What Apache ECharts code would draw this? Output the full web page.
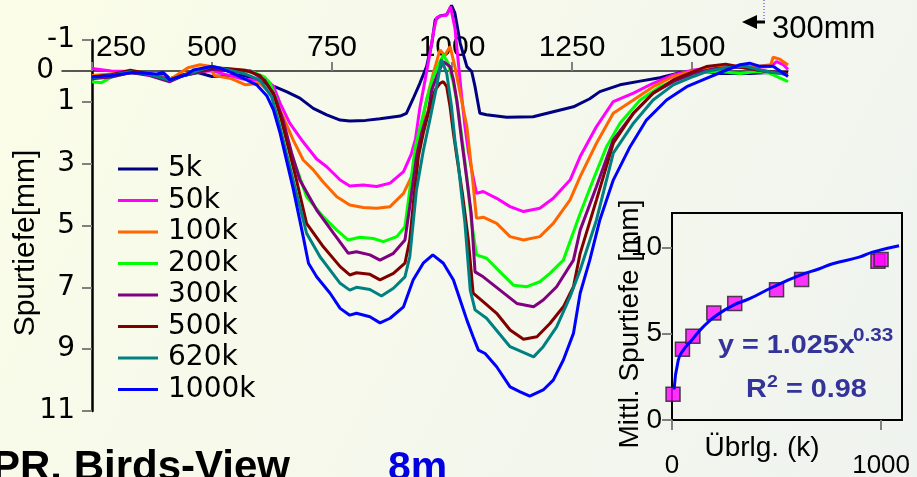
<!DOCTYPE html>
<html><head><meta charset="utf-8">
<script src="https://cdn.jsdelivr.net/npm/echarts@6/dist/echarts.min.js"></script>
<style>html,body{margin:0;padding:0;background:#f6f9ec}#c{width:917px;height:477px}</style>
</head><body><div id="c"></div>
<script>
// ---------- main chart data: [position, depth] ----------
const names = ['5k','50k','100k','200k','300k','500k','620k','1000k'];
const colors = ['#000080','#ff00ff','#ff6600','#00ff00','#800080','#800000','#008080','#0000ff'];
const xTicks = [250,500,750,1000,1250,1500];
const yLabels = [-1,0,1,3,5,7,9,11];
const yTicks = [-1,1,3,5,7,9,11];

const s5k = [[250,0.2],[290,0.15],[335,0.05],[385,0.12],[400,0.08],[412,0.25],[440,0.15],[470,0.05],[500,0.18],[540,0.15],[560,0.12],[600,0.3],[628,0.49],[655,0.67],[683,0.88],[711,1.21],[739,1.42],[767,1.59],[787,1.62],[820,1.6],[850,1.55],[892,1.46],[905,1.37],[919,0.9],[933,0.4],[947,-0.14],[958,-0.9],[965,-1.65],[975,-1.78],[989,-1.82],[999,-2.12],[1006,-1.87],[1017,-0.9],[1031,-0.14],[1041,0.02],[1048,0.51],[1058,1.37],[1072,1.42],[1114,1.5],[1169,1.48],[1211,1.32],[1253,1.16],[1287,0.9],[1308,0.67],[1350,0.45],[1392,0.33],[1433,0.22],[1475,0.06],[1517,0.0],[1560,0.08],[1620,0.08],[1660,0.05],[1700,0.05]];
const s50k = [[250,-0.08],[290,0.0],[330,0.02],[370,0.08],[412,0.25],[440,0.15],[470,0.02],[500,0.0],[530,0.12],[560,0.25],[590,0.3],[614,0.3],[628,0.5],[642,1.05],[662,1.69],[690,2.3],[718,2.85],[739,3.1],[767,3.53],[787,3.72],[815,3.69],[843,3.74],[871,3.63],[899,3.26],[915,2.7],[924,2.2],[933,1.2],[944,0.29],[954,-0.57],[962,-1.3],[968,-1.72],[978,-1.78],[989,-1.8],[997,-2.08],[1006,-1.4],[1013,-0.3],[1020,0.8],[1027,1.8],[1034,2.6],[1041,3.2],[1051,3.96],[1065,3.9],[1093,4.12],[1121,4.39],[1149,4.55],[1183,4.44],[1211,4.12],[1246,3.53],[1267,2.77],[1301,1.8],[1336,0.99],[1378,0.72],[1419,0.4],[1461,0.13],[1503,-0.03],[1560,-0.12],[1600,-0.15],[1640,-0.12],[1665,-0.15],[1676,-0.3],[1690,-0.2],[1700,-0.05]];
const s100k = [[250,0.15],[290,0.1],[330,0.05],[370,0.12],[412,0.28],[430,0.1],[450,-0.1],[475,-0.2],[495,-0.15],[505,0.15],[540,0.25],[570,0.45],[600,0.4],[628,0.83],[648,1.48],[669,2.23],[690,2.88],[711,3.2],[732,3.6],[760,4.07],[787,4.34],[815,4.42],[843,4.44],[871,4.39],[899,3.96],[919,3.31],[933,2.1],[947,0.94],[961,0.08],[975,-0.68],[985,-0.5],[996,-0.79],[1006,-0.14],[1017,0.72],[1031,1.8],[1041,3.2],[1051,4.77],[1065,4.73],[1093,4.93],[1121,5.36],[1149,5.47],[1183,5.36],[1211,4.93],[1246,4.17],[1267,3.42],[1301,2.34],[1336,1.37],[1378,0.94],[1419,0.51],[1461,0.18],[1503,0.0],[1560,-0.12],[1600,-0.15],[1640,-0.15],[1664,-0.2],[1669,-0.44],[1683,-0.38],[1700,-0.19]];
const s200k = [[250,0.35],[270,0.38],[290,0.2],[330,0.05],[370,0.12],[412,0.3],[440,0.15],[470,0.05],[500,-0.08],[540,-0.05],[580,0.0],[610,0.2],[621,0.4],[635,0.94],[648,1.8],[662,2.56],[680,3.31],[697,4.07],[732,4.72],[760,5.15],[784,5.47],[808,5.38],[836,5.42],[857,5.52],[885,5.36],[902,5.04],[912,3.85],[923,2.5],[937,1.6],[947,0.94],[961,0.18],[975,-0.3],[982,-0.52],[992,-0.25],[1003,0.4],[1013,1.26],[1024,2.56],[1032,3.6],[1041,4.93],[1051,5.95],[1072,6.06],[1100,6.5],[1128,6.93],[1156,6.98],[1183,6.82],[1204,6.55],[1232,6.12],[1267,4.61],[1294,3.53],[1322,2.45],[1350,1.69],[1392,0.94],[1433,0.51],[1475,0.24],[1517,0.05],[1558,0.02],[1600,0.08],[1635,0.02],[1662,0.08],[1700,0.35]];
const s300k = [[250,0.25],[290,0.2],[330,0.05],[370,0.15],[412,0.35],[440,0.15],[470,0.05],[500,-0.05],[540,0.0],[580,0.0],[610,0.3],[631,0.83],[648,1.59],[666,2.66],[683,3.53],[718,4.5],[753,5.25],[784,5.9],[801,5.85],[829,5.95],[850,6.12],[878,5.9],[902,5.47],[912,4.39],[926,2.77],[937,2.0],[951,1.26],[958,0.61],[968,0.18],[982,-0.3],[996,-0.14],[1003,0.29],[1010,0.94],[1020,2.23],[1030,3.4],[1040,4.6],[1048,6.5],[1065,6.66],[1100,7.09],[1135,7.52],[1170,7.63],[1190,7.41],[1218,6.98],[1253,6.12],[1267,5.15],[1301,3.74],[1336,2.23],[1378,1.37],[1419,0.72],[1461,0.35],[1503,0.08],[1550,-0.08],[1600,-0.12],[1650,0.0],[1700,0.12]];
const s500k = [[250,0.2],[290,0.12],[330,-0.02],[370,0.1],[412,0.3],[440,0.12],[470,0.0],[500,-0.1],[530,-0.08],[570,-0.02],[600,0.15],[628,0.72],[645,1.59],[662,2.66],[676,3.53],[697,4.93],[732,5.69],[767,6.33],[787,6.6],[801,6.53],[829,6.58],[850,6.76],[878,6.55],[902,6.22],[912,5.47],[920,4.2],[930,2.77],[940,2.02],[954,1.16],[965,0.61],[975,0.4],[982,0.35],[989,0.51],[996,1.16],[1003,2.02],[1010,2.77],[1022,4.0],[1034,5.47],[1044,7.19],[1069,7.52],[1093,7.84],[1121,8.38],[1149,8.68],[1177,8.6],[1204,8.17],[1232,7.63],[1253,6.98],[1267,5.9],[1301,4.17],[1336,2.34],[1378,1.37],[1419,0.72],[1461,0.29],[1503,0.02],[1530,-0.14],[1570,-0.22],[1610,-0.1],[1650,0.0],[1700,0.08]];
const s620k = [[250,0.22],[290,0.15],[330,0.03],[370,0.12],[412,0.3],[440,0.15],[470,0.0],[500,-0.15],[530,-0.05],[570,0.1],[600,0.3],[624,0.83],[638,1.59],[655,2.66],[669,3.53],[697,5.25],[725,6.01],[767,6.87],[787,7.09],[801,7.0],[829,7.07],[853,7.28],[878,7.03],[902,6.66],[912,6.01],[926,3.85],[940,2.6],[955,1.5],[968,0.5],[978,-0.38],[989,0.08],[999,1.16],[1006,2.23],[1013,3.0],[1020,4.0],[1027,4.93],[1038,7.09],[1048,7.73],[1072,8.0],[1121,8.92],[1170,9.25],[1190,8.92],[1218,8.28],[1246,7.3],[1267,6.44],[1301,4.82],[1336,2.66],[1378,1.69],[1419,0.94],[1461,0.45],[1503,0.18],[1530,0.02],[1570,-0.1],[1610,-0.15],[1650,0.0],[1700,0.12]];
const s1000k = [[250,0.2],[287,0.16],[335,0.05],[385,0.1],[398,0.05],[412,0.29],[447,0.13],[461,-0.03],[499,-0.14],[517,-0.09],[544,0.08],[572,0.29],[593,0.45],[614,0.8],[628,1.26],[642,2.02],[655,2.88],[669,3.8],[690,5.36],[701,6.22],[718,6.66],[746,7.19],[767,7.68],[787,7.9],[801,7.84],[829,7.95],[850,8.15],[871,8.0],[899,7.63],[919,6.76],[940,6.22],[960,5.95],[982,6.22],[1003,6.76],[1017,7.41],[1031,8.06],[1044,8.6],[1055,9.03],[1069,9.14],[1093,9.57],[1121,10.22],[1142,10.38],[1162,10.52],[1190,10.32],[1211,10.0],[1232,9.35],[1253,8.49],[1267,7.19],[1287,6.12],[1308,4.82],[1336,3.53],[1371,2.45],[1405,1.59],[1447,0.94],[1489,0.51],[1530,0.24],[1572,-0.03],[1600,-0.2],[1620,-0.25],[1640,-0.15],[1669,-0.15],[1700,0.18]];
const mainData = [s5k,s50k,s100k,s200k,s300k,s500k,s620k,s1000k];

// ---------- inset data ----------
const insetX = [5,50,100,200,300,500,620,985,1000];
const insetY = [1.5,4.1,4.85,6.2,6.75,7.55,8.15,9.2,9.3];
const fitX = [10,30,54,94,149,213,292,371,483,610,705,768,895,959,1086];
const fitY = [1.77,3.47,4.05,4.62,5.4,6.07,6.65,7.03,7.71,8.38,8.77,9.06,9.44,9.73,10.1];
const insetXTicks = [0,1000];
const insetYTicks = [0,5,10];

const FONT = 'Arial, "Liberation Sans", sans-serif';
const WIDE = '"DejaVu Sans", Arial, sans-serif';
const chart = echarts.init(document.getElementById('c'), null, {renderer:'canvas'});

const series = names.map((n,i)=>({
  name:n, type:'line', xAxisIndex:0, yAxisIndex:0, data:mainData[i],
  symbol:'none', showSymbol:false, clip:false, smooth:false,
  lineStyle:{color:colors[i], width:3}, itemStyle:{color:colors[i]}, z:2+i
}));
series.push({
  type:'line', xAxisIndex:1, yAxisIndex:2, data:fitX.map((x,i)=>[x,fitY[i]]),
  symbol:'none', smooth:true, lineStyle:{color:'#0000ff', width:3}, z:5
});
series.push({
  type:'scatter', xAxisIndex:1, yAxisIndex:2, data:insetX.map((x,i)=>[x,insetY[i]]),
  symbol:'rect', symbolSize:14, itemStyle:{color:'#ff00ff', borderColor:'#222', borderWidth:1.5}, z:4
});

const TXT = (x,y,text,font,fill,align,valign,extra)=>Object.assign({type:'text', x:x, y:y,
  style:{text:text, font:font, fill:fill, textAlign:align, textVerticalAlign:valign, align:align, verticalAlign:valign}}, extra||{});

const option = {
  animation:false,
  backgroundColor:{type:'linear',x:0,y:0,x2:1,y2:1,colorStops:[{offset:0,color:'#fbfde8'},{offset:1,color:'#eff3ef'}]},
  textStyle:{fontFamily:FONT},
  grid:[
    {left:62, right:129, top:40, bottom:66, outerBoundsMode:'none', containLabel:false},
    {left:672, right:15, top:213, bottom:57, outerBoundsMode:'none', containLabel:false, show:true, borderColor:'#000', borderWidth:2, backgroundColor:'transparent'}
  ],
  legend:{
    data:names, orient:'vertical', left:118, top:155, padding:0, icon:'rect', itemWidth:40, itemHeight:3, itemGap:3.5,
    textStyle:{fontSize:28, color:'#000', fontFamily:WIDE, padding:[0,0,0,5]}
  },
  xAxis:[
    {gridIndex:0, type:'value', position:'top', offset:-31, min:187.5, max:1700,
     axisLine:{onZero:false, lineStyle:{color:'#222', width:1.5}},
     axisTick:{customValues:xTicks, length:9, lineStyle:{color:'#808080', width:2}},
     axisLabel:{customValues:xTicks, fontSize:30, color:'#000', margin:8, fontFamily:FONT,
       formatter:v=> v===250 ? '{p|250}' : String(v),
       rich:{p:{fontSize:30, padding:[0,0,0,58], fontFamily:FONT, color:'#000'}}},
     splitLine:{show:false}},
    {gridIndex:1, type:'value', min:0, max:1100,
     axisLine:{onZero:false, lineStyle:{color:'#000', width:2}},
     axisTick:{customValues:insetXTicks, length:10, lineStyle:{color:'#808080', width:2}},
     axisLabel:{customValues:insetXTicks, fontSize:26, color:'#000', margin:33, fontFamily:FONT, formatter:v=>String(v)},
     name:'Übrlg. (k)', nameLocation:'middle', nameGap:14, nameMoveOverlap:false,
     nameTextStyle:{fontSize:28, color:'#000', fontFamily:FONT, padding:[0,50,0,0]},
     splitLine:{show:false}}
  ],
  yAxis:[
    {gridIndex:0, type:'value', inverse:true, min:-1, max:11, position:'left', offset:-30,
     axisLine:{show:true, onZero:false, lineStyle:{color:'#000', width:2.5}},
     axisTick:{show:true, customValues:yTicks, length:10, lineStyle:{color:'#808080', width:2}},
     axisLabel:{customValues:yLabels, fontSize:28, color:'#000', margin:17, fontFamily:WIDE,
       formatter:v=> v===0 ? '{z|0}' : String(v),
       rich:{z:{fontSize:28, padding:[0,21,0,0], fontFamily:WIDE, color:'#000'}}},
     splitLine:{show:false}},
    {gridIndex:0, type:'value', inverse:true, min:-1, max:11, show:false},
    {gridIndex:1, type:'value', min:0, max:12,
     axisLine:{show:true, onZero:false, lineStyle:{color:'#000', width:2}},
     axisTick:{show:true, customValues:insetYTicks, length:10, lineStyle:{color:'#808080', width:2}},
     axisLabel:{customValues:insetYTicks, fontSize:28, color:'#000', margin:10, fontFamily:FONT},
     splitLine:{show:false}}
  ],
  graphic:[
    TXT(26,243,'Spurtiefe[mm]','30px '+FONT,'#000','center','middle',{rotation:Math.PI/2}),
    TXT(630,324,'Mittl. Spurtiefe [mm]','28px '+FONT,'#000','center','middle',{rotation:Math.PI/2}),
    TXT(718,346,'y = 1.025x','bold 25px '+FONT,'#333399','left','middle',{scaleX:1.15}),
    TXT(853,336,'0.33','bold 18px '+FONT,'#333399','left','middle',{scaleX:1.15}),
    TXT(746,390,'R','bold 25px '+FONT,'#333399','left','middle',{scaleX:1.15}),
    TXT(767,382,'2','bold 17px '+FONT,'#333399','left','middle',{scaleX:1.15}),
    TXT(786,390,'= 0.98','bold 25px '+FONT,'#333399','left','middle',{scaleX:1.15}),
    TXT(-8,489,'PR. Birds-View','bold 42px '+FONT,'#000','left','bottom'),
    TXT(388,489,'8m','bold 41px '+FONT,'#0000e0','left','bottom'),
    TXT(772,29,'300mm','31px '+FONT,'#000','left','middle'),
    {type:'line', shape:{x1:764, y1:0, x2:764, y2:20}, style:{stroke:'#3333cc', lineWidth:1, lineDash:[1,2]}},
    {type:'rect', shape:{x:755, y:20.5, width:10, height:3}, style:{fill:'#000'}},
    {type:'polygon', shape:{points:[[742,22],[757,15],[757,29]]}, style:{fill:'#000'}}
  ],
  series:series
};
chart.setOption(option);
</script>
</body></html>
